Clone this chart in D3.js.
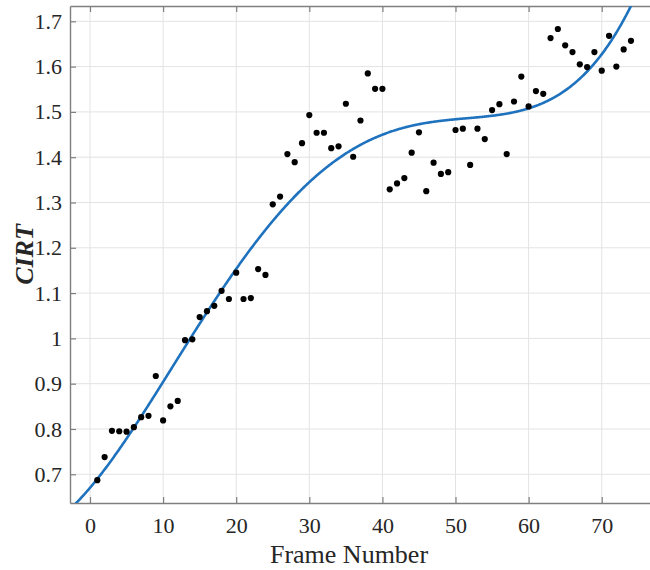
<!DOCTYPE html>
<html>
<head>
<meta charset="utf-8">
<script src="https://cdn.jsdelivr.net/npm/d3@7"></script>
<style>
  html, body { margin: 0; padding: 0; background: #fff; }
  svg { display: block; }
</style>
</head>
<body>
<svg id="chart" width="650" height="570"></svg>
<script>
// CIRT measured on each frame
const frames = d3.range(1, 75);
const cirt = [
  0.687, 0.738, 0.796, 0.795, 0.794, 0.804, 0.826, 0.829, 0.917, 0.819,
  0.850, 0.862, 0.996, 0.998, 1.047, 1.060, 1.072, 1.105, 1.087, 1.145,
  1.087, 1.089, 1.153, 1.140, 1.296, 1.313, 1.407, 1.389, 1.431, 1.493,
  1.454, 1.454, 1.420, 1.424, 1.518, 1.401, 1.481, 1.585, 1.551, 1.551,
  1.329, 1.342, 1.354, 1.410, 1.455, 1.325, 1.388, 1.363, 1.367, 1.460,
  1.463, 1.383, 1.463, 1.440, 1.504, 1.517, 1.407, 1.523, 1.578, 1.512,
  1.546, 1.540, 1.663, 1.683, 1.647, 1.632, 1.605, 1.599, 1.632, 1.591,
  1.668, 1.600, 1.638, 1.657
];
const xTicks = [0, 10, 20, 30, 40, 50, 60, 70];
const yTicks = [0.7, 0.8, 0.9, 1.0, 1.1, 1.2, 1.3, 1.4, 1.5, 1.6, 1.7];
const xLabel = "Frame Number";
const yLabel = "CIRT";
const fitDegree = 4;

const FONT = "Liberation Serif";
const INK = "#262626";
const AXIS = "#7f7f7f";

// least-squares polynomial fit (normalised abscissa for conditioning)
function polyfit(xs, ys, deg) {
  const n = deg + 1, mid = 37.5, half = 37;
  const A = d3.range(n).map(() => new Array(n + 1).fill(0));
  xs.forEach((x, k) => {
    const t = (x - mid) / half;
    const p = d3.range(n).map(i => t ** i);
    for (let i = 0; i < n; i++) {
      for (let j = 0; j < n; j++) A[i][j] += p[i] * p[j];
      A[i][n] += p[i] * ys[k];
    }
  });
  for (let i = 0; i < n; i++) {
    let m = i;
    for (let r = i + 1; r < n; r++) if (Math.abs(A[r][i]) > Math.abs(A[m][i])) m = r;
    [A[i], A[m]] = [A[m], A[i]];
    for (let r = 0; r < n; r++) {
      if (r === i) continue;
      const f = A[r][i] / A[i][i];
      for (let c = i; c <= n; c++) A[r][c] -= f * A[i][c];
    }
  }
  const coef = A.map((row, i) => row[n] / row[i]);
  return x => { const t = (x - mid) / half; return coef.reduce((s, c, i) => s + c * t ** i, 0); };
}

const svg = d3.select("#chart");
const plot = { left: 70, top: 6, right: 651, bottom: 503 };

const x = d3.scaleLinear().domain([-2.736, 76.74]).range([plot.left, plot.right]);
const y = d3.scaleLinear().domain([0.6366, 1.7338]).range([plot.bottom, plot.top]);

svg.append("defs").append("clipPath").attr("id", "clip")
  .append("rect")
  .attr("x", plot.left).attr("y", plot.top)
  .attr("width", plot.right - plot.left).attr("height", plot.bottom - plot.top);

// grid
const grid = svg.append("g").attr("stroke", "#e3e3e3").attr("stroke-width", 1);
grid.selectAll("line.gx").data(xTicks).join("line")
  .attr("class", "gx")
  .attr("x1", d => x(d)).attr("x2", d => x(d))
  .attr("y1", plot.top).attr("y2", plot.bottom);
grid.selectAll("line.gy").data(yTicks).join("line")
  .attr("class", "gy")
  .attr("x1", plot.left).attr("x2", plot.right)
  .attr("y1", d => y(d)).attr("y2", d => y(d));

// axes (ticks pointing inward)
const fmtY = d => String(+d.toFixed(1));
const axisStyle = g => {
  g.attr("font-family", FONT).attr("font-size", 22);
  g.select(".domain").attr("stroke", AXIS).attr("stroke-width", 1.4);
  g.selectAll(".tick line").attr("stroke", AXIS).attr("stroke-width", 1.2);
  g.selectAll(".tick text").attr("fill", INK).attr("font-family", FONT);
};

svg.append("g")
  .attr("transform", `translate(0,${plot.bottom})`)
  .call(d3.axisBottom(x).tickValues(xTicks).tickSize(-6).tickSizeOuter(0).tickPadding(14))
  .call(axisStyle);

svg.append("g")
  .attr("transform", `translate(0,${plot.top})`)
  .call(d3.axisTop(x).tickValues(xTicks).tickSize(-6).tickSizeOuter(0).tickFormat(""))
  .call(axisStyle);

svg.append("g")
  .attr("transform", `translate(${plot.left},0)`)
  .call(d3.axisLeft(y).tickValues(yTicks).tickSize(-6).tickSizeOuter(0).tickPadding(8).tickFormat(fmtY))
  .call(axisStyle);

// fitted trend
const fit = polyfit(frames, cirt, fitDegree);
const xs = d3.range(-2.736, 76.74, 0.1);
svg.append("path")
  .attr("clip-path", "url(#clip)")
  .attr("d", d3.line().x(d => x(d)).y(d => y(fit(d)))(xs))
  .attr("fill", "none")
  .attr("stroke", "#1f72bd")
  .attr("stroke-width", 2.6);

// measured points
svg.append("g").attr("clip-path", "url(#clip)")
  .selectAll("circle").data(frames).join("circle")
  .attr("cx", d => x(d))
  .attr("cy", (d, i) => y(cirt[i]))
  .attr("r", 3.1)
  .attr("fill", "#000");

// axis labels
svg.append("text")
  .attr("x", 349).attr("y", 563)
  .attr("text-anchor", "middle")
  .attr("font-family", FONT)
  .attr("font-size", 26)
  .attr("fill", INK)
  .text(xLabel);

svg.append("text")
  .attr("transform", `translate(33,${(plot.top + plot.bottom) / 2}) rotate(-90)`)
  .attr("text-anchor", "middle")
  .attr("font-family", FONT)
  .attr("font-size", 26)
  .attr("font-weight", "bold")
  .attr("font-style", "italic")
  .attr("fill", INK)
  .text(yLabel);
</script>
</body>
</html>
